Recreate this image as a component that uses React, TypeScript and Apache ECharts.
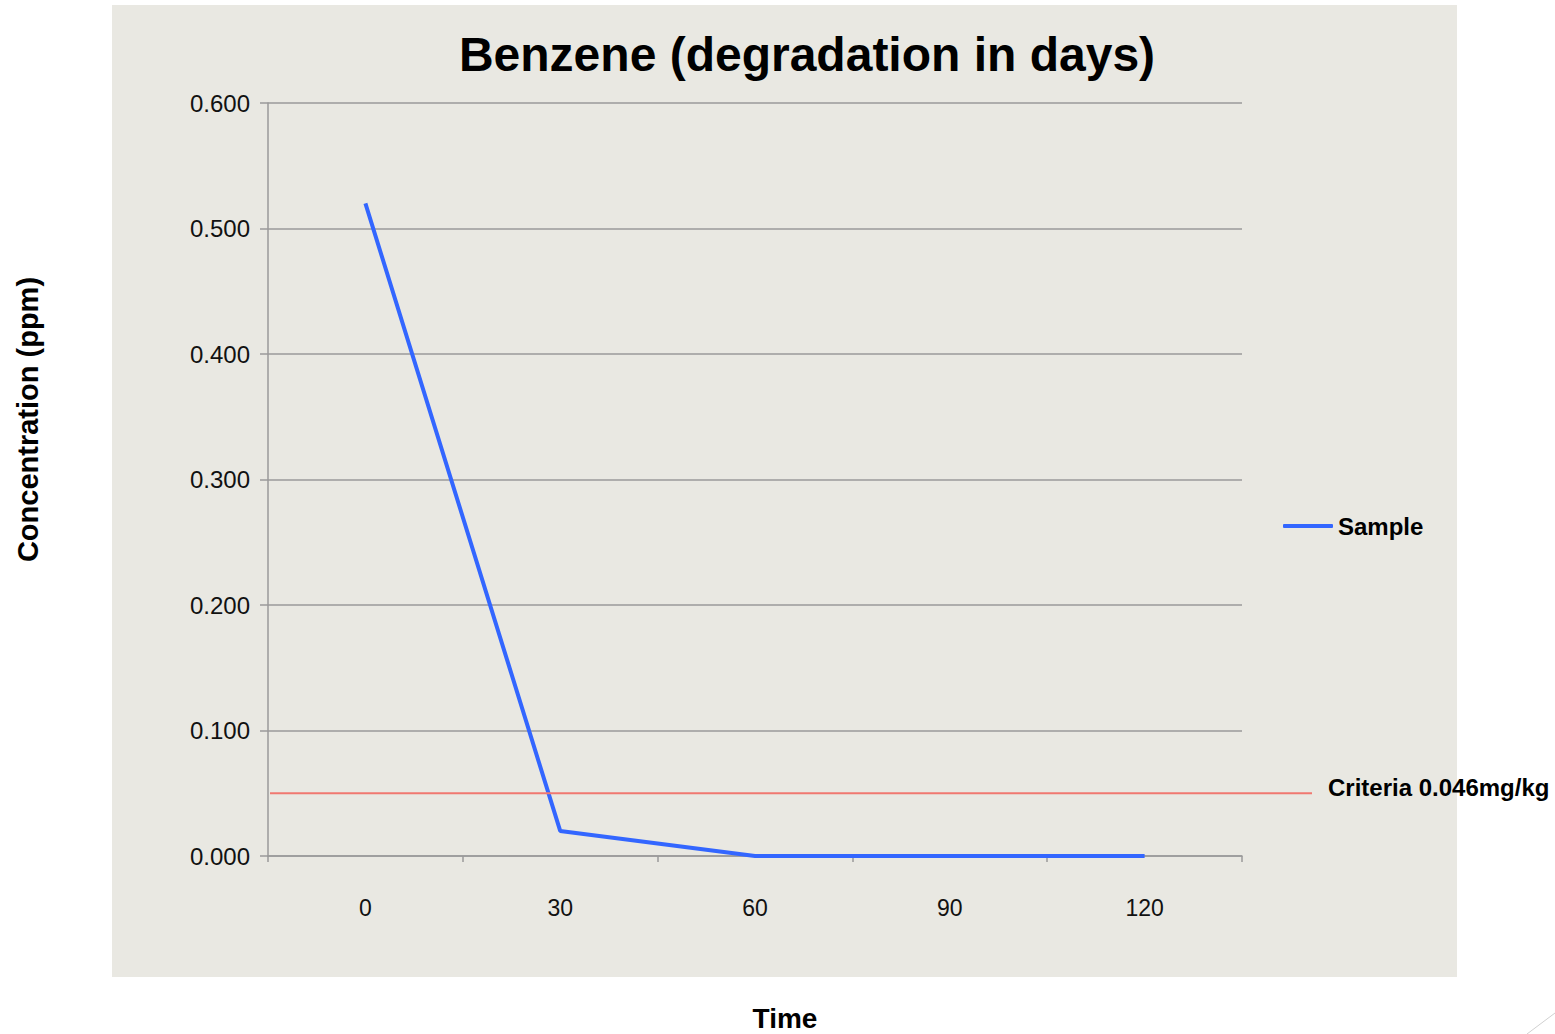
import React, { useEffect, useRef } from "react";
import * as echarts from "echarts";

const categories = ["0", "30", "60", "90", "120"];
const sampleValues = [0.52, 0.02, 0.0, 0.0, 0.0];
const criteriaValue = 0.05;
const criteriaLabel = "Criteria 0.046mg/kg";
const yMin = 0;
const yMax = 0.6;
const yInterval = 0.1;

const FONT = "'Liberation Sans', Arial, Helvetica, sans-serif";

export default function App() {
  const ref = useRef<HTMLDivElement>(null);
  useEffect(() => {
    if (!ref.current) return;
    const chart = echarts.init(ref.current, undefined, { renderer: "svg" });
    const baseGraphic: any[] = [
      {
        type: "rect",
        z: -10,
        silent: true,
        shape: { x: 112, y: 5, width: 1345, height: 972 },
        style: { fill: "#e9e8e2" },
      },
      {
        type: "line",
        silent: true,
        shape: { x1: 1527, y1: 1034, x2: 1555, y2: 1013 },
        style: { stroke: "#d0d0d0", lineWidth: 1 },
      },
    ];
    chart.setOption({
      animation: false,
      backgroundColor: "#ffffff",
      title: {
        text: "Benzene (degradation in days)",
        left: 802,
        textAlign: "center",
        top: 25,
        textStyle: { fontFamily: FONT, fontSize: 48, fontWeight: "bold", color: "#000" },
      },
      legend: {
        left: 1278,
        top: 509,
        orient: "vertical",
        icon: "roundRect",
        itemWidth: 50,
        itemHeight: 4,
        itemGap: 10,
        textStyle: { fontFamily: FONT, fontSize: 24, fontWeight: "bold", color: "#000" },
        data: ["Sample"],
      },
      grid: {
        left: 268,
        top: 103,
        width: 974,
        height: 753,
        containLabel: false,
        outerBoundsMode: "none",
      },
      xAxis: {
        type: "category",
        data: categories,
        boundaryGap: true,
        name: "Time",
        nameLocation: "middle",
        nameGap: 148,
        nameTextStyle: {
          fontFamily: FONT,
          fontSize: 28,
          fontWeight: "bold",
          color: "#000",
          padding: [0, 0, 0, 60],
        },
        axisLine: { lineStyle: { color: "#9a9a9a", width: 1.5 } },
        axisTick: { show: true, length: 6, lineStyle: { color: "#9a9a9a", width: 1.5 } },
        axisLabel: { fontFamily: FONT, fontSize: 23, color: "#111", margin: 40 },
      },
      yAxis: {
        type: "value",
        min: yMin,
        max: yMax,
        interval: yInterval,
        name: "Concentration (ppm)",
        nameLocation: "middle",
        nameGap: 226,
        nameTextStyle: {
          fontFamily: FONT,
          fontSize: 29,
          fontWeight: "bold",
          color: "#000",
          padding: [0, 0, 0, 120],
        },
        axisLine: { show: true, lineStyle: { color: "#9a9a9a", width: 1.5 } },
        axisTick: { show: true, length: 8, lineStyle: { color: "#9a9a9a", width: 1.5 } },
        axisLabel: {
          fontFamily: FONT,
          fontSize: 24,
          color: "#111",
          margin: 18,
          formatter: (v: number) => v.toFixed(3),
        },
        splitLine: { show: true, lineStyle: { color: "#9a9a9a", width: 1.5 } },
      },
      series: [
        {
          name: "Sample",
          type: "line",
          data: sampleValues,
          symbol: "none",
          lineStyle: { color: "#3366ff", width: 4 },
          itemStyle: { color: "#3366ff" },
        },
      ],
      graphic: baseGraphic,
    });
    const yPx = chart.convertToPixel({ yAxisIndex: 0 }, criteriaValue) as number;
    const x0 = 270;
    const x1 = 1312;
    chart.setOption({
      graphic: [
        ...baseGraphic,
        {
          type: "line",
          silent: true,
          z: 5,
          shape: { x1: x0, y1: yPx, x2: x1, y2: yPx },
          style: { stroke: "#f07870", lineWidth: 2 },
        },
        {
          type: "text",
          silent: true,
          x: 1328,
          y: yPx - 6,
          style: {
            text: criteriaLabel,
            fontFamily: FONT,
            fontSize: 24,
            fontWeight: "bold",
            fill: "#000",
            verticalAlign: "middle",
          },
        },
      ],
    });
    return () => chart.dispose();
  }, []);
  return (
    <div
      ref={ref}
      style={{ position: "fixed", left: 0, top: 0, width: 1555, height: 1034 }}
    />
  );
}
